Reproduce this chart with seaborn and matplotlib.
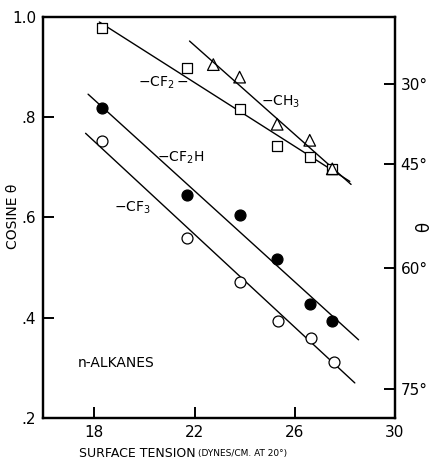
import numpy as np
import pandas as pd
import matplotlib
matplotlib.use("Agg")
import matplotlib.pyplot as plt
import seaborn as sns

# Dados (tensao superficial x cosseno do angulo)
cf2_x = [18.3, 21.7, 23.8, 25.3, 26.6, 27.5]
cf2_y = [0.978, 0.898, 0.816, 0.742, 0.720, 0.696]

ch3_x = [22.75, 23.8, 25.3, 26.6, 27.5]
ch3_y = [0.905, 0.880, 0.786, 0.754, 0.697]

cf2h_x = [18.3, 21.7, 23.8, 25.3, 26.6, 27.5]
cf2h_y = [0.818, 0.644, 0.604, 0.518, 0.428, 0.394]

cf3_x = [18.3, 21.7, 23.8, 25.35, 26.65, 27.55]
cf3_y = [0.752, 0.560, 0.472, 0.394, 0.360, 0.312]

# Extremos das retas ajustadas
reta_cf2_x = [18.2, 28.2]
reta_cf2_y = [0.99, 0.672]
reta_ch3_x = [21.8, 28.25]
reta_ch3_y = [0.952, 0.666]
reta_cf2h_x = [17.75, 28.55]
reta_cf2h_y = [0.846, 0.356]
reta_cf3_x = [17.65, 28.4]
reta_cf3_y = [0.768, 0.270]

ticks_x = [18, 22, 26, 30]
ticks_y = [0.2, 0.4, 0.6, 0.8, 1.0]
rotulos_y = [".2", ".4", ".6", ".8", "1.0"]
angulos = [30, 45, 60, 75]

sns.set_style("ticks")
plt.rcParams['font.family'] = ['DejaVu Sans']
plt.rcParams['mathtext.default'] = 'regular'
for chave in ['text.color', 'axes.labelcolor', 'xtick.color', 'ytick.color', 'axes.edgecolor']:
    plt.rcParams[chave] = 'black'

fig = plt.figure(figsize=(4.33, 4.69), dpi=100)
ax = fig.add_axes([0.0993, 0.1087, 0.8127, 0.8551])

# Retas
for rx, ry in [(reta_cf2_x, reta_cf2_y), (reta_ch3_x, reta_ch3_y),
               (reta_cf2h_x, reta_cf2h_y), (reta_cf3_x, reta_cf3_y)]:
    sns.lineplot(x=rx, y=ry, ax=ax, color='black', linewidth=1.0)

# Pontos
sns.scatterplot(x=cf2_x, y=cf2_y, ax=ax, marker='s', s=55,
                facecolor='white', edgecolor='black', linewidth=0.9, zorder=3)
sns.scatterplot(x=ch3_x, y=ch3_y, ax=ax, marker='^', s=70,
                facecolor='none', edgecolor='black', linewidth=0.9, zorder=4)
sns.scatterplot(x=cf2h_x, y=cf2h_y, ax=ax, marker='o', s=62,
                color='black', edgecolor='black', linewidth=0.9, zorder=3)
sns.scatterplot(x=cf3_x, y=cf3_y, ax=ax, marker='o', s=62,
                facecolor='white', edgecolor='black', linewidth=0.9, zorder=3)

ax.set_xlim(15.95, 30)
ax.set_ylim(0.2, 1.0)
ax.set_xticks(ticks_x)
ax.set_xticklabels([str(t) for t in ticks_x])
ax.set_yticks(ticks_y)
ax.set_yticklabels(rotulos_y)

for s in ax.spines.values():
    s.set_linewidth(1.6)
ax.tick_params(direction='in', length=8, width=1.4, labelsize=11, pad=5)

# Eixo secundario com angulo
ax2 = ax.twinx()
ax2.set_ylim(0.2, 1.0)
ax2.set_yticks(np.cos(np.radians(angulos)))
ax2.set_yticklabels([f"{a}°" for a in angulos])
ax2.tick_params(direction='in', length=8, width=1.4, labelsize=11, pad=4)
for s in ax2.spines.values():
    s.set_linewidth(1.6)

# Rotulos das curvas
ax.text(20.77, 0.868, r"$-CF_2-$", fontsize=10, ha='center', va='center')
ax.text(25.45, 0.83, r"$-CH_3$", fontsize=10, ha='center', va='center')
ax.text(21.45, 0.72, r"$-CF_2H$", fontsize=10, ha='center', va='center')
ax.text(19.5, 0.62, r"$-CF_3$", fontsize=10, ha='center', va='center')
ax.text(18.87, 0.31, "n-ALKANES", fontsize=10, ha='center', va='center')

ax.set_xlabel("")
ax.set_ylabel("")
fig.text(13 / 433, 1 - 216 / 469, "COSINE θ", fontsize=10, rotation=90,
         ha='center', va='center')
fig.text(424 / 433, 1 - 227 / 469, "θ", fontsize=12, rotation=90,
         ha='center', va='center')

fig.text(196 / 433, 1 - 453 / 469, "SURFACE TENSION", fontsize=9, ha='right', va='center')
fig.text(198 / 433, 1 - 453 / 469, "(DYNES/CM. AT 20°)", fontsize=6.5, ha='left', va='center')

fig.savefig("out.png", dpi=100)
